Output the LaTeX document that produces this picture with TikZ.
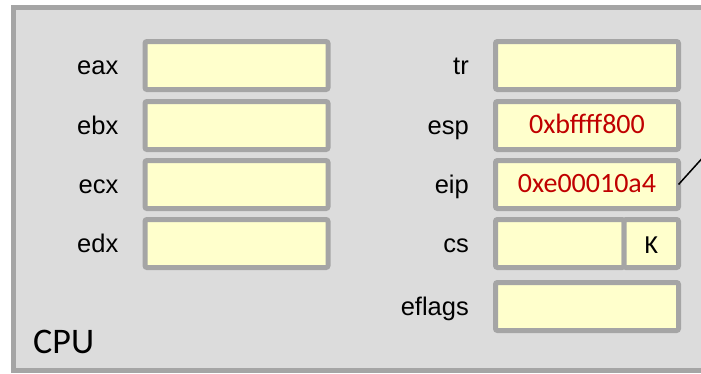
\documentclass[tikz,border=0pt]{standalone}
\usepackage{fontspec}
\setmainfont{Liberation Sans}
\newfontfamily\calfont{Carlito}
\definecolor{cpubg}{HTML}{DCDCDC}
\definecolor{frame}{HTML}{A5A5A5}
\definecolor{regfill}{HTML}{FFFFCC}
\definecolor{valred}{HTML}{C00000}
\begin{document}
\begin{tikzpicture}[x=1pt,y=-1pt,
  reg/.style={draw=frame, fill=regfill, line width=5pt, rounded corners=2pt,
    minimum width=183pt, minimum height=48pt, inner sep=0pt, outer sep=0pt},
  regname/.style={anchor=base east, inner sep=0pt,
    font=\fontsize{25.5}{30}\selectfont},
  regval/.style={text=valred, font=\calfont\fontsize{28}{32}\selectfont,
    text height=15pt, text depth=0pt},
  flagval/.style={font=\calfont\fontsize{26}{30}\selectfont,
    text height=19pt, text depth=0pt}]
  \useasboundingbox (0,0) rectangle (701,373);
  \clip (0,0) rectangle (701,373);
  \fill[white] (0,0) rectangle (701,373);

  % CPU enclosure, open past the right edge
  \draw[frame, fill=cpubg, line width=5pt] (13.5,7.5) rectangle (740,370.5);
  \node[anchor=base west, inner sep=0pt, font=\calfont\fontsize{36}{40}\selectfont]
    (cpu) at (33,353) {CPU};

  % general purpose registers
  \node[reg] (eax) at (236.5,65.5) {};
  \node[reg] (ebx) at (236.5,125.5) {};
  \node[reg] (ecx) at (236.5,184.5) {};
  \node[reg] (edx) at (236.5,243.5) {};

  % special registers
  \node[reg] (tr)  at (587,65.5) {};
  \node[reg, regval] (esp) at (587,125.5) {0xbffff800};
  \node[reg, regval] (eip) at (587,184.5) {0xe00010a4};
  \node[reg, minimum width=128.5pt] (cs) at (559.75,243.5) {};
  \node[reg, flagval, minimum width=54.5pt] (csk) at (651.25,243.5) {K};
  \node[reg] (eflags) at (587,306.5) {};

  % register names
  \foreach \r in {eax,ebx,ecx,edx,tr,esp,eip,cs,eflags}
    \node[regname] (\r-name) at ([xshift=-26.5pt,yshift=-8.5pt]\r.west) {\r};

  % pointer leaving the instruction pointer
  \coordinate (eiptail) at (720,138.5);
  \draw[black, line width=1.5pt] (eip.east) -- (eiptail);
\end{tikzpicture}
\end{document}
